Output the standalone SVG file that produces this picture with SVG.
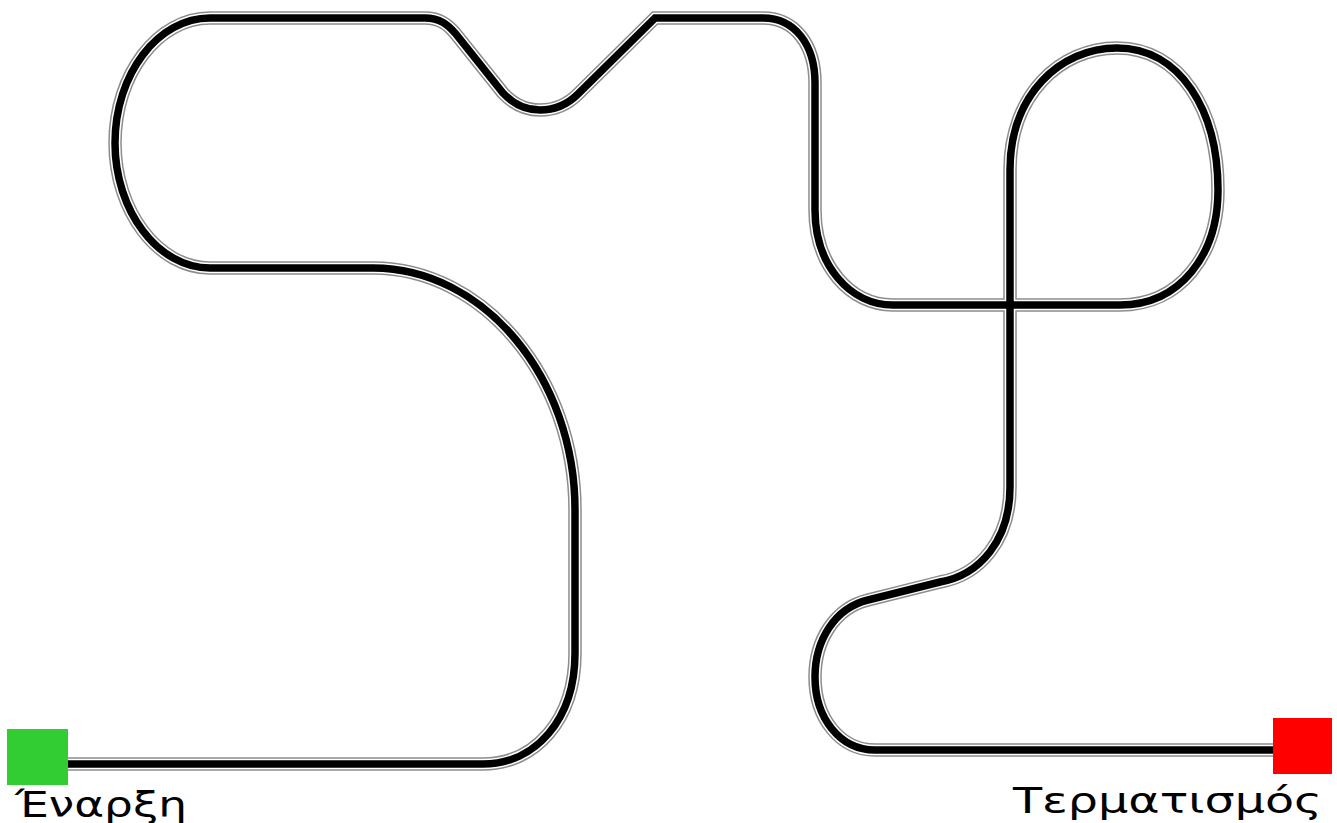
<svg xmlns="http://www.w3.org/2000/svg" xmlns:xlink="http://www.w3.org/1999/xlink" width="1337" height="823" viewBox="0 0 1337 823">
<style>
.edge{fill:none;stroke:#8c8c8c;stroke-width:13.5}
.gap{fill:none;stroke:#ffffff;stroke-width:10.5}
.core{fill:none;stroke:#000000;stroke-width:7.5}
.lbl{font-family:"DejaVu Sans",sans-serif;font-size:35px;fill:#000}
</style>
<defs>
<path id="track" d="M68,764 H483 C535,764 575,720 575,653 V510 C575,378 484,268 373,268 H210 C158,268 115,211 115,143 C115,74 158,18 210,18 H425 C440,18 448,25 455,33 L503,93 C515,106 528,110 540,110 C555,110 568,104 578,94 L655,18 H763 C795,18 815,45 815,83 V210 C815,265 850,305 893,305 H1120 C1180,305 1218,255 1218,190 C1218,110 1180,48 1117,48 C1060,48 1010,95 1010,170 V487 C1010,540 980,575 940,582 L868,600 C835,608 815,640 815,677 C815,718 840,750 875,750 H1274"/>
</defs>
<rect width="1337" height="823" fill="#ffffff"/>
<g id="connectors">
<use xlink:href="#track" class="edge"/>
<use xlink:href="#track" class="gap"/>
<use xlink:href="#track" class="core"/>
</g>
<g id="start">
<rect x="7" y="729" width="61" height="56" fill="#32cd32"/>
<text class="lbl" x="15" y="817" textLength="172" lengthAdjust="spacingAndGlyphs">Έναρξη</text>
</g>
<g id="finish">
<rect x="1273" y="718" width="59" height="56" fill="#ff0000"/>
<text class="lbl" x="1013" y="813" textLength="309" lengthAdjust="spacingAndGlyphs">Τερματισμός</text>
</g>
</svg>
